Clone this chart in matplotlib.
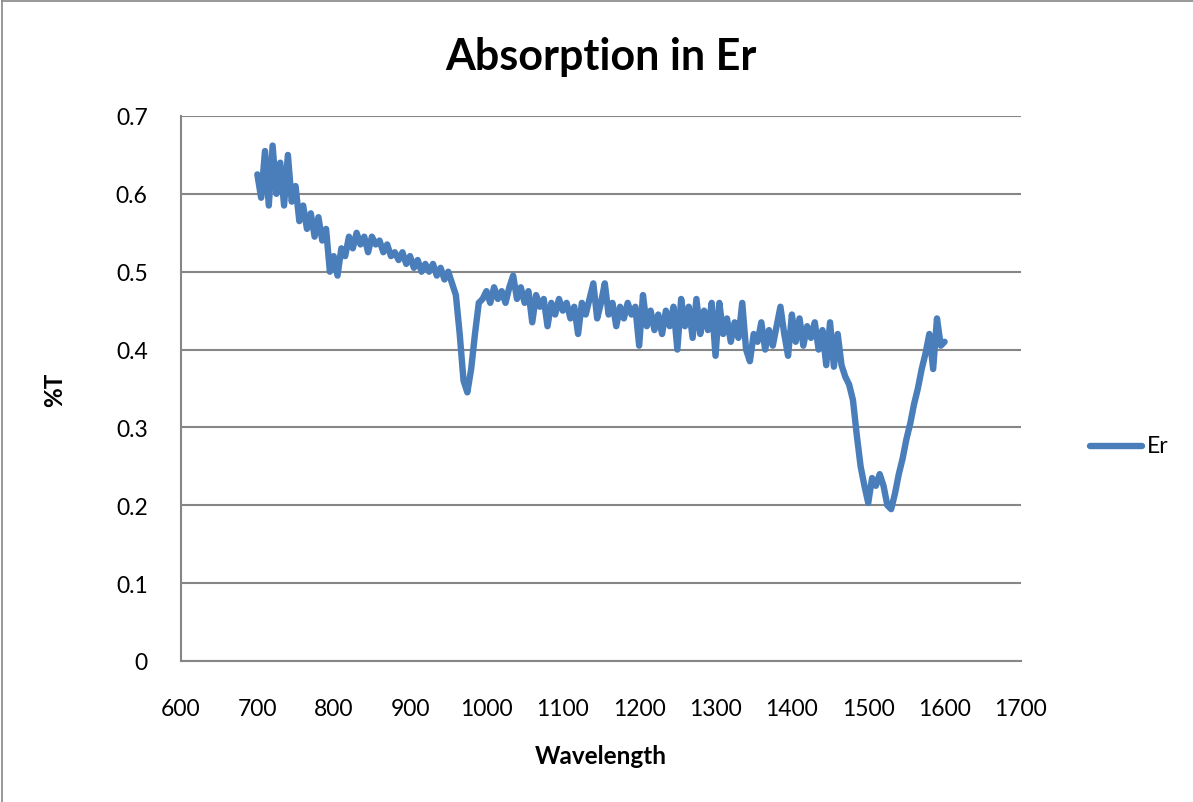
#!/usr/bin/python3

import numpy as np
import matplotlib.pyplot as plt
from matplotlib.lines import Line2D

# wavelength grid (nm) and transmission
wavelength = np.arange(700, 1601, 5)
transmission = [
    # 700 - 795
    0.625, 0.595, 0.655, 0.585, 0.662, 0.600, 0.640, 0.585, 0.650, 0.590,
    0.610, 0.565, 0.585, 0.555, 0.575, 0.545, 0.570, 0.540, 0.555, 0.500,
    # 800 - 895
    0.520, 0.495, 0.530, 0.520, 0.545, 0.530, 0.550, 0.535, 0.545, 0.525,
    0.545, 0.535, 0.540, 0.525, 0.535, 0.520, 0.525, 0.515, 0.525, 0.510,
    # 900 - 995
    0.520, 0.505, 0.515, 0.500, 0.510, 0.500, 0.510, 0.495, 0.505, 0.490,
    0.500, 0.485, 0.470, 0.420, 0.360, 0.345, 0.375, 0.420, 0.460, 0.465,
    # 1000 - 1095
    0.475, 0.460, 0.480, 0.465, 0.475, 0.460, 0.480, 0.495, 0.465, 0.480,
    0.460, 0.475, 0.435, 0.470, 0.455, 0.465, 0.430, 0.460, 0.445, 0.465,
    # 1100 - 1195
    0.450, 0.460, 0.440, 0.455, 0.420, 0.460, 0.445, 0.465, 0.485, 0.440,
    0.460, 0.485, 0.445, 0.460, 0.430, 0.455, 0.440, 0.460, 0.445, 0.455,
    # 1200 - 1295
    0.405, 0.470, 0.430, 0.450, 0.425, 0.445, 0.420, 0.450, 0.430, 0.455,
    0.400, 0.465, 0.430, 0.455, 0.415, 0.465, 0.420, 0.450, 0.425, 0.460,
    # 1300 - 1395
    0.392, 0.460, 0.420, 0.440, 0.410, 0.435, 0.415, 0.460, 0.400, 0.385,
    0.420, 0.410, 0.435, 0.400, 0.425, 0.405, 0.430, 0.455, 0.420, 0.392,
    # 1400 - 1495
    0.445, 0.410, 0.440, 0.405, 0.430, 0.415, 0.435, 0.400, 0.425, 0.380,
    0.435, 0.378, 0.420, 0.380, 0.365, 0.355, 0.335, 0.290, 0.250, 0.225,
    # 1500 - 1600
    0.203, 0.235, 0.225, 0.240, 0.225, 0.200, 0.195, 0.215, 0.240, 0.260,
    0.285, 0.305, 0.330, 0.350, 0.375, 0.395, 0.420, 0.375, 0.440, 0.405,
    0.410,
]
series_name = 'Er'
x_ticks = np.arange(600, 1701, 100)
y_ticks = np.arange(0, 0.71, 0.1)

plt.rcParams['font.family'] = ['Lato', 'DejaVu Sans']
line_color = '#4A7EBB'
grid_color = '#868686'

fig = plt.figure(figsize=(11.93, 8.03), dpi=100)
ax = fig.add_axes([0.1517, 0.1756, 0.8558 - 0.1517, 0.8543 - 0.1756])

ax.plot(wavelength, transmission, color=line_color, lw=4.6,
        solid_joinstyle='round', solid_capstyle='round')

ax.set_xlim(600, 1700)
ax.set_ylim(0, 0.7)
ax.set_xticks(x_ticks)
ax.set_yticks(y_ticks)
ax.set_yticklabels(['0' if v == 0 else '%.1f' % v for v in y_ticks])
ax.tick_params(length=0, labelsize=16.5)
ax.tick_params(axis='x', pad=27)
ax.tick_params(axis='y', pad=24)

ax.yaxis.grid(True, color=grid_color, lw=1.5)
ax.set_axisbelow(True)
for side in ('top', 'right'):
    ax.spines[side].set_visible(False)
for side in ('left', 'bottom'):
    ax.spines[side].set_color(grid_color)
    ax.spines[side].set_linewidth(1.5)

fig.text(0.504, 1 - 57 / 803, 'Absorption in Er', ha='center', va='center',
         fontsize=31, fontweight='bold')
fig.text(0.504, 1 - 757 / 803, 'Wavelength', ha='center', va='center',
         fontsize=17.5, fontweight='bold')
fig.text(55 / 1193, 1 - 390 / 803, '%T', ha='center', va='center',
         rotation=90, fontsize=17.5, fontweight='bold')

# legend
fig.add_artist(Line2D([1090 / 1193, 1142 / 1193], [1 - 447 / 803] * 2,
                      color=line_color, lw=4.6, solid_capstyle='round'))
fig.text(1147 / 1193, 1 - 447 / 803, series_name, ha='left', va='center',
         fontsize=16.5)

# chart area border (top and left edges visible)
fig.add_artist(Line2D([2 / 1193, 2 / 1193], [0, 1 - 2 / 803],
                      color=grid_color, lw=1.2))
fig.add_artist(Line2D([2 / 1193, 1], [1 - 2 / 803] * 2,
                      color=grid_color, lw=1.2))

fig.savefig('out.png', dpi=100)
